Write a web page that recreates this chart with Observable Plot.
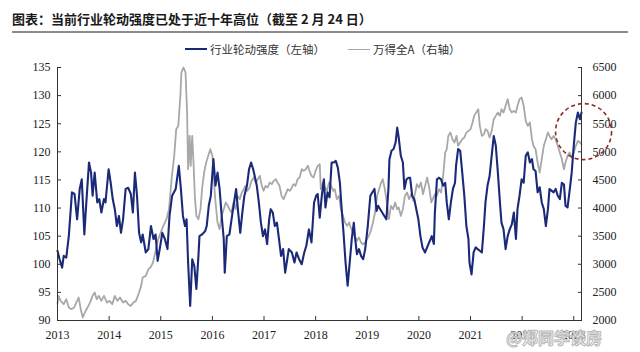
<!DOCTYPE html>
<html><head><meta charset="utf-8">
<script src="https://cdn.jsdelivr.net/npm/d3@7"></script>
<script src="https://cdn.jsdelivr.net/npm/@observablehq/plot@0.6"></script>
<style>
body{margin:0;background:#fff;width:640px;height:352px;overflow:hidden;position:relative;}
#title{position:absolute;left:12px;top:9px;font:bold 13px "Noto Sans CJK SC";color:#1a1a1a;white-space:nowrap;}
#rule{position:absolute;left:12px;top:31px;width:616px;height:2px;background:#8c8c8c;}
.leg{position:absolute;top:41px;font:11.5px "Noto Sans CJK SC";color:#333;white-space:nowrap;display:flex;align-items:center;}
.sw{display:inline-block;width:22px;margin-right:3px;}
#chart{position:absolute;left:0;top:56px;}
#wm{position:absolute;left:506px;top:325px;font:bold 16px "Noto Sans CJK SC";color:rgba(255,255,255,0.8);-webkit-text-stroke:1px #b8b8b8;white-space:nowrap;}
</style></head>
<body>
<div id="title"></div>
<div id="rule"></div>
<div class="leg" id="leg1" style="left:185px"><span class="sw" style="border-top:2.5px solid #1b2a78"></span><span id="l1"></span></div>
<div class="leg" id="leg2" style="left:348px"><span class="sw" style="border-top:1.5px solid #a8a8a8"></span><span id="l2"></span></div>
<div id="chart"></div>
<div id="wm">@郑同学谈房</div>
<script>
const titleText = "图表：当前行业轮动强度已处于近十年高位（截至 2 月 24 日）";
const seriesNames = ["行业轮动强度（左轴）", "万得全A（右轴）"];
const yearTicks = [2013,2014,2015,2016,2017,2018,2019,2020,2021,2022,2023];
const leftTicks = [90,95,100,105,110,115,120,125,130,135];
const rightTicks = [2000,2500,3000,3500,4000,4500,5000,5500,6000,6500];

// 行业轮动强度 (left axis)
const rotDates = [2013.00,2013.04,2013.09,2013.12,2013.17,2013.22,2013.28,2013.33,2013.38,2013.43,2013.47,2013.52,2013.55,2013.61,2013.65,2013.68,2013.72,2013.77,2013.81,2013.85,2013.90,2013.93,2013.99,2014.03,2014.07,2014.11,2014.15,2014.19,2014.23,2014.27,2014.32,2014.37,2014.42,2014.46,2014.50,2014.54,2014.58,2014.62,2014.65,2014.71,2014.76,2014.81,2014.86,2014.90,2014.94,2014.98,2015.03,2015.08,2015.13,2015.17,2015.22,2015.29,2015.35,2015.39,2015.43,2015.47,2015.50,2015.53,2015.57,2015.61,2015.65,2015.69,2015.73,2015.75,2015.80,2015.86,2015.89,2015.93,2015.97,2016.02,2016.06,2016.10,2016.14,2016.18,2016.22,2016.24,2016.28,2016.33,2016.39,2016.42,2016.46,2016.50,2016.54,2016.58,2016.62,2016.67,2016.71,2016.75,2016.79,2016.82,2016.86,2016.90,2016.94,2016.98,2017.02,2017.06,2017.10,2017.13,2017.17,2017.21,2017.25,2017.29,2017.33,2017.37,2017.41,2017.45,2017.48,2017.54,2017.59,2017.63,2017.68,2017.73,2017.78,2017.82,2017.87,2017.92,2017.97,2018.01,2018.04,2018.08,2018.12,2018.16,2018.19,2018.23,2018.27,2018.31,2018.35,2018.39,2018.43,2018.47,2018.50,2018.54,2018.58,2018.62,2018.66,2018.70,2018.74,2018.76,2018.80,2018.84,2018.88,2018.92,2018.96,2019.01,2019.06,2019.10,2019.14,2019.18,2019.21,2019.25,2019.29,2019.33,2019.37,2019.41,2019.43,2019.47,2019.51,2019.55,2019.58,2019.61,2019.65,2019.69,2019.72,2019.76,2019.80,2019.83,2019.87,2019.91,2019.95,2019.99,2020.03,2020.07,2020.12,2020.16,2020.20,2020.25,2020.29,2020.31,2020.35,2020.39,2020.43,2020.47,2020.51,2020.54,2020.58,2020.62,2020.66,2020.70,2020.72,2020.76,2020.80,2020.84,2020.88,2020.92,2020.96,2020.98,2021.02,2021.06,2021.10,2021.14,2021.18,2021.22,2021.26,2021.29,2021.33,2021.37,2021.41,2021.45,2021.49,2021.53,2021.57,2021.60,2021.64,2021.68,2021.72,2021.76,2021.80,2021.84,2021.88,2021.91,2021.95,2021.99,2022.03,2022.07,2022.11,2022.15,2022.19,2022.22,2022.26,2022.30,2022.34,2022.38,2022.42,2022.46,2022.50,2022.53,2022.57,2022.61,2022.65,2022.69,2022.73,2022.77,2022.81,2022.84,2022.88,2022.92,2022.96,2023.00,2023.04,2023.08,2023.12,2023.15];
const rotValues = [102.4,100.9,99.4,101.5,101.2,105.1,112.8,112.5,108.0,113.4,115.1,105.3,109.8,118.1,116.3,112.2,116.3,111.0,111.6,109.2,111.6,111.0,116.9,114.5,111.6,109.8,106.8,108.6,105.6,108.0,113.4,113.6,112.5,109.2,116.3,112.2,105.6,103.9,105.3,102.1,102.7,106.8,104.5,105.3,100.6,102.7,105.6,104.5,102.7,108.6,112.2,113.4,117.5,113.4,108.6,106.8,108.0,100.3,92.6,100.9,99.7,95.6,101.5,105.0,105.3,105.9,106.8,110.4,112.2,118.7,114.0,116.3,113.4,108.6,104.5,98.5,105.0,105.3,109.2,111.0,113.4,109.2,105.6,109.2,112.2,114.0,116.9,118.1,116.9,115.7,114.0,111.0,107.4,105.0,106.2,103.6,108.0,109.8,109.2,106.8,107.4,104.5,101.5,102.7,98.5,100.9,102.7,102.1,100.3,102.1,100.9,100.0,102.1,103.3,106.2,103.9,111.0,112.2,112.5,108.3,112.2,115.1,110.1,112.8,111.9,118.1,118.1,118.4,117.2,114.5,110.4,105.6,100.3,96.2,100.3,104.5,107.4,105.0,101.8,102.7,101.5,100.9,102.7,106.8,112.2,112.8,113.4,109.5,110.4,109.8,109.2,108.6,108.0,113.4,118.7,120.2,120.5,121.7,124.3,122.5,119.3,118.1,113.4,115.1,115.4,115.4,112.2,111.6,109.8,108.0,105.0,103.0,102.1,103.0,103.9,105.0,103.6,109.2,115.1,115.4,115.1,114.0,114.5,111.0,108.0,111.0,113.4,114.5,117.5,120.5,120.2,116.3,112.2,106.8,104.5,100.3,98.2,102.1,103.0,102.7,102.4,102.1,106.8,111.0,114.0,115.7,119.3,122.8,121.1,116.3,111.0,107.4,106.2,102.7,105.0,106.2,107.1,109.2,104.5,109.8,112.2,115.1,114.5,119.3,119.9,118.1,118.7,116.9,116.6,112.8,113.7,111.0,109.8,106.8,109.8,113.4,113.1,112.8,113.4,112.2,111.6,114.5,114.2,110.4,110.1,113.1,116.3,121.1,125.2,127.0,125.8,127.0];

// 万得全A (right axis)
const windDates = [2013.00,2013.02,2013.06,2013.12,2013.17,2013.22,2013.27,2013.32,2013.38,2013.41,2013.45,2013.49,2013.53,2013.58,2013.63,2013.68,2013.72,2013.76,2013.80,2013.85,2013.90,2013.96,2014.01,2014.06,2014.11,2014.16,2014.21,2014.27,2014.32,2014.37,2014.42,2014.47,2014.52,2014.58,2014.62,2014.65,2014.71,2014.76,2014.80,2014.85,2014.90,2014.95,2015.00,2015.05,2015.11,2015.16,2015.21,2015.26,2015.30,2015.34,2015.38,2015.40,2015.44,2015.48,2015.51,2015.53,2015.56,2015.58,2015.61,2015.64,2015.66,2015.69,2015.73,2015.77,2015.80,2015.84,2015.88,2015.92,2015.96,2016.00,2016.02,2016.05,2016.08,2016.10,2016.14,2016.18,2016.22,2016.26,2016.30,2016.33,2016.37,2016.41,2016.45,2016.49,2016.53,2016.57,2016.61,2016.64,2016.68,2016.72,2016.76,2016.80,2016.84,2016.88,2016.92,2016.95,2016.99,2017.03,2017.07,2017.11,2017.15,2017.19,2017.23,2017.26,2017.30,2017.34,2017.38,2017.42,2017.46,2017.50,2017.54,2017.57,2017.61,2017.65,2017.69,2017.73,2017.77,2017.81,2017.85,2017.88,2017.92,2017.96,2018.00,2018.04,2018.08,2018.10,2018.14,2018.18,2018.22,2018.26,2018.30,2018.34,2018.37,2018.41,2018.45,2018.49,2018.53,2018.57,2018.61,2018.65,2018.68,2018.72,2018.76,2018.80,2018.84,2018.88,2018.92,2018.96,2018.99,2019.03,2019.07,2019.11,2019.15,2019.19,2019.23,2019.27,2019.30,2019.34,2019.38,2019.42,2019.46,2019.50,2019.54,2019.58,2019.61,2019.65,2019.69,2019.73,2019.77,2019.81,2019.85,2019.89,2019.93,2019.96,2020.00,2020.04,2020.08,2020.12,2020.16,2020.20,2020.24,2020.27,2020.31,2020.35,2020.39,2020.43,2020.47,2020.51,2020.54,2020.57,2020.61,2020.65,2020.69,2020.73,2020.76,2020.80,2020.84,2020.88,2020.92,2020.96,2021.00,2021.04,2021.07,2021.11,2021.15,2021.18,2021.22,2021.26,2021.29,2021.33,2021.37,2021.41,2021.45,2021.49,2021.53,2021.57,2021.60,2021.64,2021.68,2021.72,2021.76,2021.80,2021.84,2021.88,2021.91,2021.95,2021.99,2022.03,2022.07,2022.11,2022.15,2022.19,2022.22,2022.26,2022.30,2022.34,2022.38,2022.42,2022.46,2022.50,2022.53,2022.57,2022.61,2022.65,2022.69,2022.73,2022.77,2022.81,2022.84,2022.88,2022.92,2022.96,2023.00,2023.04,2023.08,2023.12,2023.15];
const windValues = [2300,2438,2349,2290,2379,2230,2201,2230,2349,2408,2201,2053,2142,2230,2319,2438,2497,2379,2438,2349,2438,2319,2349,2290,2438,2349,2408,2319,2349,2290,2260,2319,2349,2497,2616,2764,2794,2912,2942,3031,3239,3446,3565,3683,3802,3980,4514,4929,5403,5462,5996,6411,6500,6411,5700,4691,5284,4751,5284,4691,4217,3861,3802,3980,4336,4632,4810,4929,5047,4929,4691,4217,3921,3743,3624,3861,3980,4099,4039,3980,3921,4099,3980,4217,4158,4276,4336,4395,4306,4365,4484,4543,4454,4514,4573,4425,4306,4395,4365,4454,4425,4484,4514,4454,4395,4217,4158,4247,4336,4306,4365,4425,4395,4514,4543,4691,4662,4691,4751,4662,4573,4543,4662,4751,4780,4336,4454,4365,4306,4454,4395,4306,4336,4158,4217,3980,3861,3743,3683,3743,3654,3565,3505,3417,3476,3387,3357,3387,3446,3505,3594,3743,3921,4217,4336,4454,4514,4336,4099,3802,4039,3980,4099,3980,4009,3861,3980,4217,4276,4158,4247,4128,4276,4425,4365,4454,4247,4395,4543,4365,4099,4158,4247,4217,4336,4276,4573,4988,5047,5284,5344,5225,5166,5284,5107,5166,5225,5255,5344,5373,5403,5522,5640,5700,5759,5462,5284,5314,5403,5373,5255,5373,5581,5640,5700,5640,5759,5700,5818,5937,5759,5700,5729,5700,5818,5937,5966,5818,5551,5462,5522,5225,5107,5047,4810,4632,4869,5107,5225,5344,5284,5225,5284,5225,5107,4988,4869,4691,4810,4929,4988,4899,4988,5107,5196,5166,5136];

// highlighted latest reading (dashed circle)
const highlightDate = [2023.19];
const highlightValue = [123.6];

document.getElementById("title").textContent = titleText;
document.getElementById("l1").textContent = seriesNames[0];
document.getElementById("l2").textContent = seriesNames[1];

const toLeft = d3.scaleLinear([rightTicks[0], rightTicks[rightTicks.length-1]], [leftTicks[0], leftTicks[leftTicks.length-1]]);
const rot = rotDates.map((d, i) => ({date: d, value: rotValues[i]}));
const wa = windDates.map((d, i) => ({date: d, value: toLeft(windValues[i])}));
const hl = highlightDate.map((d, i) => ({date: d, value: highlightValue[i]}));
const xDomain = [rotDates[0], rotDates[rotDates.length-1]];

const chart = Plot.plot({
  width: 640, height: 296,
  marginLeft: 57, marginRight: 59, marginTop: 11, marginBottom: 32,
  x: {domain: xDomain},
  y: {domain: [leftTicks[0], leftTicks[leftTicks.length-1]]},
  style: {fontFamily: "'Liberation Serif', serif", fontSize: "12px", color: "#222", background: "transparent"},
  marks: [
    Plot.line(wa, {x: "date", y: "value", stroke: "#a8a8a8", strokeWidth: 1.8}),
    Plot.line(rot, {x: "date", y: "value", stroke: "#1b2a78", strokeWidth: 2.1}),
    Plot.ruleY([leftTicks[0]], {stroke: "#333", strokeWidth: 1}),
    Plot.ruleX(xDomain, {stroke: "#333", strokeWidth: 1}),
    Plot.axisY({anchor: "left", ticks: leftTicks, tickSize: -4, tickPadding: 11, label: null, stroke: "#333"}),
    Plot.axisY({anchor: "right", ticks: rightTicks.map(toLeft), tickFormat: d => String(Math.round(toLeft.invert(d))), tickSize: -4, tickPadding: 15, label: null, stroke: "#333"}),
    Plot.axisX({ticks: yearTicks, tickFormat: d => String(d), tickSize: -4, tickPadding: 14, label: null, stroke: "#333"}),
    Plot.dot(hl, {x: "date", y: "value", r: 28, stroke: "#8b2a2a", strokeWidth: 1.6, strokeDasharray: "4,3", fill: "none"})
  ]
});
document.getElementById("chart").appendChild(chart);
</script>
</body></html>
